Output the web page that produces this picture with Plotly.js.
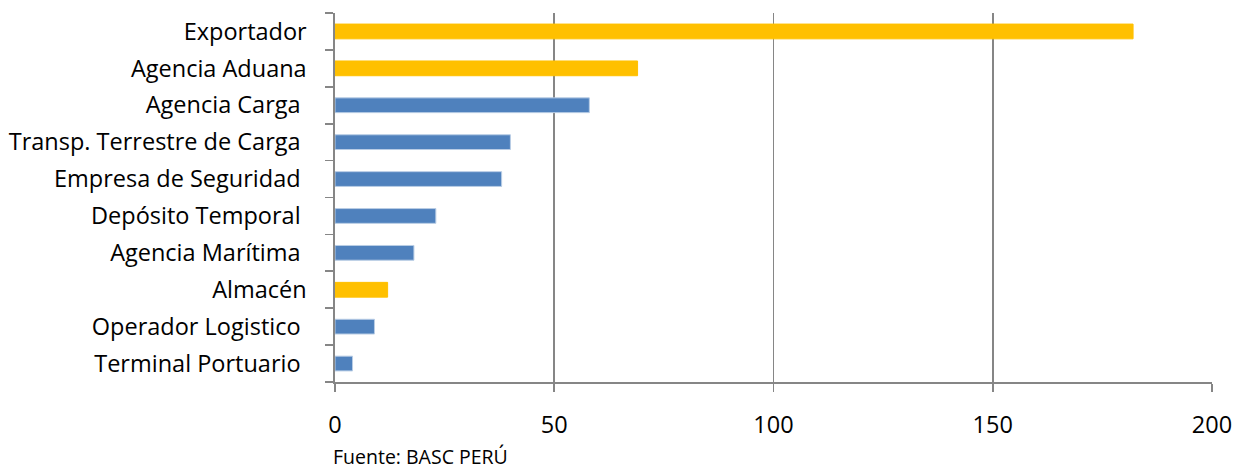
<!DOCTYPE html>
<html>
<head>
<meta charset="utf-8">
<script src="https://cdn.plot.ly/plotly-3.0.1.min.js"></script>
<style>
  html, body { margin: 0; padding: 0; background: #fff; }
  #chart { width: 1241px; height: 470px; }
</style>
</head>
<body>
<div id="chart"></div>
<script>
// Empresas certificadas BASC por tipo de actividad
const categorias = [
  "Exportador",
  "Agencia Aduana",
  "Agencia Carga",
  "Transp. Terrestre de Carga",
  "Empresa de Seguridad",
  "Depósito Temporal",
  "Agencia Marítima",
  "Almacén",
  "Operador Logistico",
  "Terminal Portuario"
];
const empresas = [182, 69, 58, 40, 38, 23, 18, 12, 9, 4];
const destacados = ["Exportador", "Agencia Aduana", "Almacén"];
const ejeX = [0, 50, 100, 150, 200];
const fuente = "Fuente: BASC PERÚ";

const ORO = "#FFC000";
const AZUL = "#4F81BD";
const GRIS = "#868686";
const FONT = "'Open Sans', 'Liberation Sans', sans-serif";

const esDestacado = categorias.map(c => destacados.includes(c));

// the highlighted labels sit a little closer to the axis
const etiquetas = categorias.map((c, i) => esDestacado[i] ? c : c + "\u00a0");

const trace = {
  type: "bar",
  orientation: "h",
  y: categorias,
  x: empresas,
  marker: {
    color: esDestacado.map(d => d ? ORO : AZUL),
    line: {
      color: esDestacado.map(d => d ? ORO : "#B9CDE5"),
      width: 1
    }
  },
  hoverinfo: "x+y"
};

const layout = {
  width: 1241,
  height: 470,
  margin: { l: 335, r: 29, t: 13, b: 88 },
  paper_bgcolor: "#fff",
  plot_bgcolor: "#fff",
  bargap: 0.6,
  showlegend: false,
  font: { family: FONT, size: 23.5, color: "#000" },
  xaxis: {
    range: [0, 200],
    tickvals: ejeX,
    ticktext: ejeX.map(String),
    showgrid: true,
    gridcolor: GRIS,
    gridwidth: 1.6,
    zeroline: false,
    showline: true,
    linecolor: GRIS,
    linewidth: 1.6,
    ticks: "outside",
    ticklen: 8,
    tickwidth: 1.6,
    tickcolor: GRIS,
    ticklabelstandoff: 13,
    tickfont: { family: FONT, size: 23.5, color: "#000" },
    fixedrange: true
  },
  yaxis: {
    type: "category",
    autorange: "reversed",
    tickvals: categorias,
    ticktext: etiquetas,
    tickson: "boundaries",
    ticks: "outside",
    ticklen: 8,
    tickwidth: 1.6,
    tickcolor: GRIS,
    showline: true,
    linecolor: GRIS,
    linewidth: 1.6,
    showgrid: false,
    zeroline: false,
    ticklabelstandoff: 22,
    tickfont: { family: FONT, size: 23.5, color: "#000" },
    fixedrange: true
  },
  annotations: [{
    text: fuente,
    xref: "paper", yref: "paper",
    x: 0, y: 0,
    xanchor: "left", yanchor: "middle",
    yshift: -74,
    xshift: -4,
    showarrow: false,
    font: { family: FONT, size: 19.5, color: "#000" }
  }]
};

Plotly.newPlot("chart", [trace], layout, { displayModeBar: false, staticPlot: true });
</script>
</body>
</html>
